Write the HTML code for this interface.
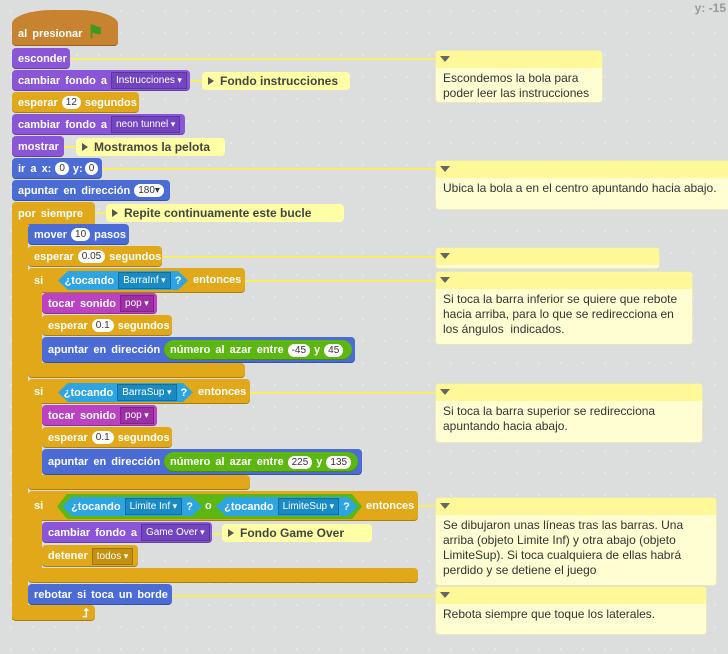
<!DOCTYPE html>
<html><head><meta charset="utf-8"><style>
*{box-sizing:border-box;margin:0;padding:0}
body{width:728px;height:654px;overflow:hidden;position:relative;font-family:"Liberation Sans",sans-serif;
background-color:#dcdddd;background-image:radial-gradient(circle,#e8e8e8 1px,transparent 1.2px);background-size:22px 22px}
.b{position:absolute;color:#fff;font-weight:bold;font-size:11px;border-radius:4px;display:flex;align-items:center;padding-left:6px;white-space:pre;word-spacing:2px;box-shadow:inset 0 -1px 0 rgba(0,0,0,.25)}
.lo{background:#8a55d7}.ct{background:#e1a91a}.mo{background:#4a6cd4}.so{background:#bb42c3}.se{background:#2ca5e2}.op{background:#5cb712}.ev{background:#c88330}
.i{display:inline-block;background:#fff;color:#333;border-radius:8px;padding:0 4px;font-size:10px;font-weight:normal;line-height:13px;margin:0 4px;word-spacing:0}
.d{display:inline-block;color:#fff;font-size:10px;font-weight:normal;padding:0 4px;line-height:14px;margin:0 4px;border:1px solid rgba(0,0,0,.2);word-spacing:0}
.lo .d{background:#7244c0}.so .d{background:#9a30a4}.se .d{background:#1a8ac4}.ct .d{background:#c39010}
.d:after{content:" ▾";font-size:9px}
.hx{position:absolute;color:#fff;font-weight:bold;font-size:11px;display:flex;align-items:center;justify-content:center;white-space:pre;background:#2ca5e2;clip-path:polygon(10px 0,calc(100% - 10px) 0,100% 50%,calc(100% - 10px) 100%,10px 100%,0 50%)}
.c{position:absolute;background:#ffffa5;border-radius:4px;color:#444;font-size:12px;font-weight:bold;display:flex;align-items:center;padding-left:6px;white-space:pre}
.c:before{content:"";border-left:6px solid #555;border-top:4px solid transparent;border-bottom:4px solid transparent;margin-right:6px}
.n{position:absolute;background:#fefed2;border-radius:4px;border:1px solid #e8e8c0;font-size:12px;color:#333;line-height:15px}
.n .h{height:17px;background:#fff899;border-radius:4px 4px 0 0;position:relative}
.n .h:after{content:"";position:absolute;left:4px;top:5px;border-top:6px solid #666;border-left:5px solid transparent;border-right:5px solid transparent}
.n p{padding:3px 7px}
.l{position:absolute;height:2px;background:#f8f060}
</style></head><body>
<div style="position:absolute;right:2px;top:1px;font-size:12px;font-weight:bold;color:#999">y: -15</div>
<!-- lines -->
<div class="l" style="left:70px;top:58px;width:365px"></div>
<div class="l" style="left:190px;top:80px;width:12px"></div>
<div class="l" style="left:64px;top:146px;width:12px"></div>
<div class="l" style="left:102px;top:168px;width:333px"></div>
<div class="l" style="left:95px;top:212px;width:11px"></div>
<div class="l" style="left:162px;top:256px;width:273px"></div>
<div class="l" style="left:245px;top:280px;width:190px"></div>
<div class="l" style="left:250px;top:392px;width:185px"></div>
<div class="l" style="left:212px;top:533px;width:10px"></div>
<div class="l" style="left:418px;top:505px;width:17px"></div>
<div class="l" style="left:172px;top:595px;width:263px"></div>

<!-- hat -->
<div class="b ev" style="left:12px;top:10px;width:106px;height:36px;border-radius:40px 40px 4px 4px/14px 14px 4px 4px;align-items:flex-end;padding-bottom:6px">al presionar <span style="color:#3c9a1e;font-size:18px;line-height:16px">⚑</span></div>
<div class="b lo" style="left:12px;top:48px;width:58px;height:21px">esconder</div>
<div class="b lo" style="left:12px;top:70px;width:178px;height:21px">cambiar fondo a<span class="d">Instrucciones</span></div>
<div class="c" style="left:202px;top:72px;width:148px;height:18px">Fondo instrucciones</div>
<div class="b ct" style="left:12px;top:92px;width:127px;height:21px">esperar<span class="i">12</span>segundos</div>
<div class="b lo" style="left:12px;top:114px;width:173px;height:21px">cambiar fondo a<span class="d">neon tunnel</span></div>
<div class="b lo" style="left:12px;top:136px;width:52px;height:21px">mostrar</div>
<div class="c" style="left:76px;top:138px;width:149px;height:18px">Mostramos la pelota</div>
<div class="b mo" style="left:12px;top:158px;width:90px;height:21px">ir a x:<span class="i">0</span>y:<span class="i" style="margin-left:2px">0</span></div>
<div class="b mo" style="left:12px;top:180px;width:158px;height:21px">apuntar en dirección<span class="i">180▾</span></div>
<!-- forever -->
<div class="b ct" style="left:12px;top:202px;width:83px;height:23px;border-radius:4px 4px 0 4px">por siempre</div>
<div class="b ct" style="left:12px;top:220px;width:16px;height:400px;border-radius:0;box-shadow:none"></div>
<div class="b ct" style="left:12px;top:605px;width:83px;height:16px;justify-content:flex-end;padding-right:6px;font-size:12px">⮥</div>
<div class="c" style="left:106px;top:204px;width:238px;height:18px">Repite continuamente este bucle</div>
<div class="b mo" style="left:28px;top:224px;width:101px;height:21px">mover<span class="i">10</span>pasos</div>
<div class="b ct" style="left:28px;top:246px;width:134px;height:21px">esperar<span class="i">0.05</span>segundos</div>
<!-- if 1 -->
<div class="b ct" style="left:28px;top:268px;width:217px;height:25px">si</div>
<div class="b ct" style="left:28px;top:290px;width:14px;height:80px;border-radius:0;box-shadow:none"></div>
<div class="b ct" style="left:28px;top:363px;width:217px;height:15px"></div>
<div class="hx" style="left:58px;top:271px;width:130px;height:19px">¿tocando<span class="d" style="background:#1a8ac4">BarraInf</span>?</div>
<div style="position:absolute;left:193px;top:274px;color:#fff;font-weight:bold;font-size:11px">entonces</div>
<div class="b so" style="left:42px;top:293px;width:115px;height:21px">tocar sonido<span class="d">pop</span></div>
<div class="b ct" style="left:42px;top:315px;width:130px;height:21px">esperar<span class="i">0.1</span>segundos</div>
<div class="b mo" style="left:42px;top:337px;width:313px;height:26px">apuntar en dirección</div>
<div class="b op" style="left:164px;top:340px;width:188px;height:20px;border-radius:10px">número al azar entre<span class="i">-45</span>y<span class="i">45</span></div>
<!-- if 2 -->
<div class="b ct" style="left:28px;top:379px;width:222px;height:25px">si</div>
<div class="b ct" style="left:28px;top:400px;width:14px;height:80px;border-radius:0;box-shadow:none"></div>
<div class="b ct" style="left:28px;top:475px;width:222px;height:15px"></div>
<div class="hx" style="left:58px;top:383px;width:135px;height:19px">¿tocando<span class="d" style="background:#1a8ac4">BarraSup</span>?</div>
<div style="position:absolute;left:198px;top:386px;color:#fff;font-weight:bold;font-size:11px">entonces</div>
<div class="b so" style="left:42px;top:405px;width:115px;height:21px">tocar sonido<span class="d">pop</span></div>
<div class="b ct" style="left:42px;top:427px;width:130px;height:21px">esperar<span class="i">0.1</span>segundos</div>
<div class="b mo" style="left:42px;top:449px;width:320px;height:26px">apuntar en dirección</div>
<div class="b op" style="left:164px;top:452px;width:194px;height:20px;border-radius:10px">número al azar entre<span class="i">225</span>y<span class="i">135</span></div>
<!-- if 3 -->
<div class="b ct" style="left:28px;top:491px;width:390px;height:30px">si</div>
<div class="b ct" style="left:28px;top:515px;width:14px;height:60px;border-radius:0;box-shadow:none"></div>
<div class="b ct" style="left:28px;top:568px;width:390px;height:15px"></div>
<div class="hx" style="left:57px;top:494px;width:305px;height:25px;background:#5cb712"></div>
<div class="hx" style="left:62px;top:497px;width:140px;height:19px">¿tocando<span class="d" style="background:#1a8ac4">Limite Inf</span>?</div>
<div style="position:absolute;left:205px;top:500px;color:#fff;font-weight:bold;font-size:11px">o</div>
<div class="hx" style="left:216px;top:497px;width:142px;height:19px">¿tocando<span class="d" style="background:#1a8ac4">LimiteSup</span>?</div>
<div style="position:absolute;left:366px;top:500px;color:#fff;font-weight:bold;font-size:11px">entonces</div>
<div class="b lo" style="left:42px;top:522px;width:170px;height:21px">cambiar fondo a<span class="d">Game Over</span></div>
<div class="c" style="left:222px;top:524px;width:150px;height:18px">Fondo Game Over</div>
<div class="b ct" style="left:42px;top:545px;width:96px;height:22px">detener<span class="d">todos</span></div>
<div class="b mo" style="left:28px;top:584px;width:144px;height:21px">rebotar si toca un borde</div>

<!-- notes -->
<div class="n" style="left:435px;top:50px;width:168px;height:53px"><div class="h"></div><p>Escondemos la bola para<br>poder leer las instrucciones</p></div>
<div class="n" style="left:435px;top:160px;width:300px;height:50px"><div class="h"></div><p>Ubica la bola a en el centro apuntando hacia abajo.</p></div>
<div class="n" style="left:435px;top:247px;width:225px;height:22px"><div class="h"></div></div>
<div class="n" style="left:435px;top:271px;width:258px;height:74px"><div class="h"></div><p>Si toca la barra inferior se quiere que rebote<br>hacia arriba, para lo que se redirecciona en<br>los ángulos&nbsp; indicados.</p></div>
<div class="n" style="left:435px;top:383px;width:268px;height:60px"><div class="h"></div><p>Si toca la barra superior se redirecciona<br>apuntando hacia abajo.</p></div>
<div class="n" style="left:435px;top:497px;width:282px;height:89px"><div class="h"></div><p>Se dibujaron unas líneas tras las barras. Una<br>arriba (objeto Limite Inf) y otra abajo (objeto<br>LimiteSup). Si toca cualquiera de ellas habrá<br>perdido y se detiene el juego</p></div>
<div class="n" style="left:435px;top:586px;width:272px;height:49px"><div class="h"></div><p>Rebota siempre que toque los laterales.</p></div>
</body></html>
